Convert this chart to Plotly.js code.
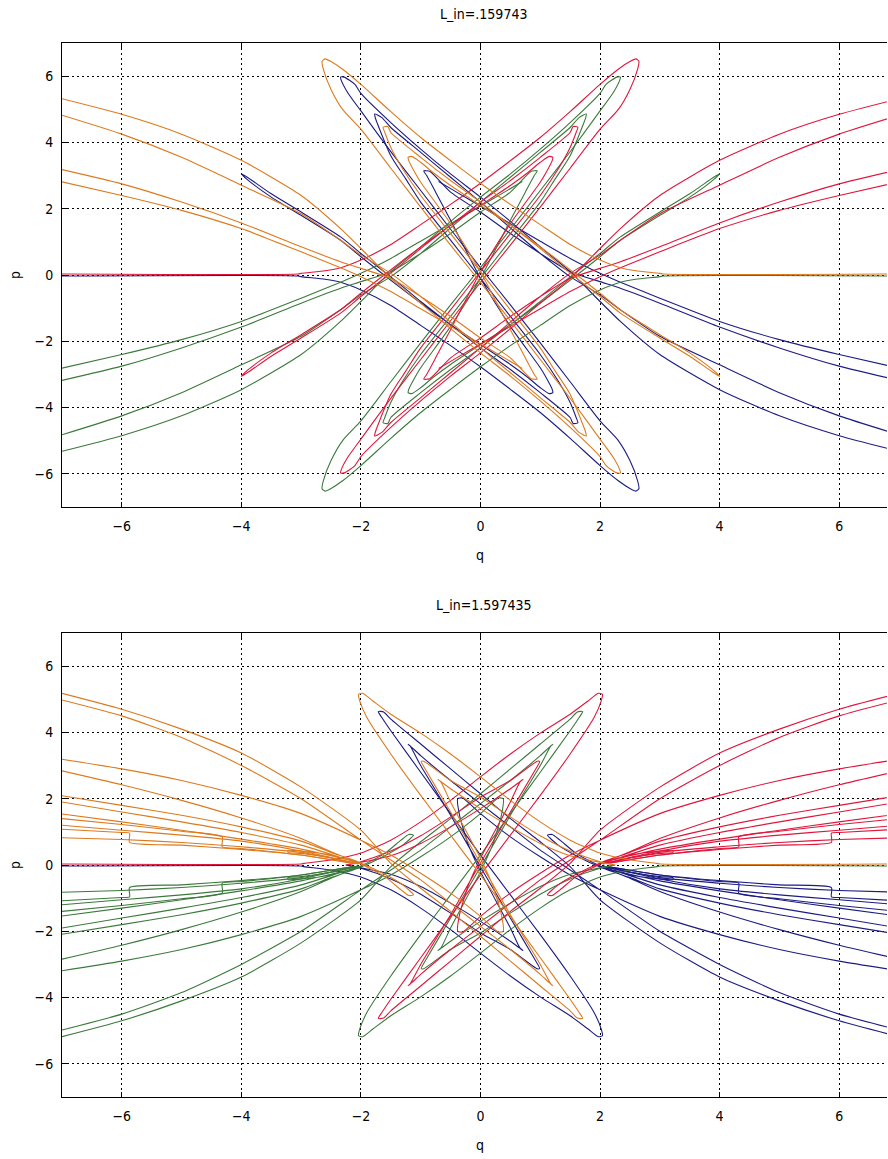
<!DOCTYPE html>
<html><head><meta charset="utf-8">
<script src="https://cdn.plot.ly/plotly-3.0.1.min.js"></script>
<style>body{margin:0;background:#fff}#g{width:888px;height:1159px}</style>
</head><body><div id="g"></div>
<script>
// Values. The figure is point-symmetric, so each curve piece
// is listed with its q values, mirrored q values (qm), p values and mirrored p values (pm).
// orange = (q,p), red = (qm,p), green = (q,pm), blue = (qm,pm)

// ---------- Top panel: L_in=.159743 ----------
const tA_q  = [7,3.05,3.0,2.6,2.34,2.0,1.5,1.0,0.5,0,-0.5,-1,-1.5,-2,-2.3,-2.5,-2.6,-2.65,-2.63,-2.5,-2.3,-2,-1.5,-1,-0.5,0,0.5,1,1.5,2,2.22,2.33,2.34,2.28,2.1,2,1.5,1,0.5,0,-0.5,-1,-1.5,-2,-2.34,-3,-4,-5,-6,-7];
const tA_qm = [-7,-3.05,-3.0,-2.6,-2.34,-2.0,-1.5,-1.0,-0.5,0,0.5,1,1.5,2,2.3,2.5,2.6,2.65,2.63,2.5,2.3,2,1.5,1,0.5,0,-0.5,-1,-1.5,-2,-2.22,-2.33,-2.34,-2.28,-2.1,-2,-1.5,-1,-0.5,0,0.5,1,1.5,2,2.34,3,4,5,6,7];
const tA_p  = [0.03,0.03,0.05,0.13,0.22,0.45,0.92,1.52,2.13,2.77,3.45,4.15,4.93,5.75,6.2,6.44,6.52,6.45,6.22,5.6,4.98,4.4,3.22,2.05,0.9,-0.22,-1.38,-2.55,-3.72,-4.95,-5.5,-5.88,-5.97,-5.97,-5.75,-5.48,-4.6,-3.8,-3.05,-2.35,-1.62,-0.85,-0.1,0.8,1.4,2.4,3.46,4.25,4.85,5.32];
const tA_pm = [-0.03,-0.03,-0.05,-0.13,-0.22,-0.45,-0.92,-1.52,-2.13,-2.77,-3.45,-4.15,-4.93,-5.75,-6.2,-6.44,-6.52,-6.45,-6.22,-5.6,-4.98,-4.4,-3.22,-2.05,-0.9,0.22,1.38,2.55,3.72,4.95,5.5,5.88,5.97,5.97,5.75,5.48,4.6,3.8,3.05,2.35,1.62,0.85,0.1,-0.8,-1.4,-2.4,-3.46,-4.25,-4.85,-5.32];

const tB_q  = [-7,-6,-5,-4,-3,-2.34,-2,-1.5,-1,-0.5,0,0.5,1,1.5,1.65,1.77,1.76,1.72,1.5,1.25,1,0.5,0,-0.5,-1,-1.3,-1.5,-1.6,-1.63,-1.55,-1.5,-1,-0.5,0,0.5,1,1.4,2,2.34,3,3.5,3.9,4.0,3.9,3.5,3,2.34,2,1.4,1,0.5,0,-0.5,-0.8,-1.0,-1.15,-1.21,-1.2,-1.1,-1,-0.5,0,0.5,0.75,0.9,0.95,0.85,0.5,0,-0.5,-1,-1.5,-2,-2.34,-3,-4,-5,-6,-7];
const tB_qm = [7,6,5,4,3,2.34,2,1.5,1,0.5,0,-0.5,-1,-1.5,-1.65,-1.77,-1.76,-1.72,-1.5,-1.25,-1,-0.5,0,0.5,1,1.3,1.5,1.6,1.63,1.55,1.5,1,0.5,0,-0.5,-1,-1.4,-2,-2.34,-3,-3.5,-3.9,-4.0,-3.9,-3.5,-3,-2.34,-2,-1.4,-1,-0.5,0,0.5,0.8,1.0,1.15,1.21,1.2,1.1,1,0.5,0,-0.5,-0.75,-0.9,-0.95,-0.85,-0.5,0,0.5,1,1.5,2,2.34,3,4,5,6,7];
const tB_p  = [4.82,4.25,3.55,2.71,1.85,1.05,0.6,0.05,-0.65,-1.42,-2.2,-2.95,-3.7,-4.45,-4.75,-4.86,-4.75,-4.55,-3.6,-2.9,-2.2,-1.05,0.1,1.25,2.4,3.2,3.85,4.3,4.46,4.48,4.3,3.55,2.85,2.2,1.5,0.8,0.2,-0.65,-1.15,-1.9,-2.45,-2.95,-3.06,-2.88,-2.35,-1.8,-1.05,-0.55,0.3,0.85,1.5,2.1,2.7,3.1,3.4,3.58,3.55,3.45,3.1,2.8,1.55,0.1,-1.65,-2.5,-3.0,-3.14,-3.13,-2.5,-1.9,-1.25,-0.65,-0.1,0.2,0.4,0.85,1.57,2.2,2.75,3.18];
const tB_pm = [-4.82,-4.25,-3.55,-2.71,-1.85,-1.05,-0.6,-0.05,0.65,1.42,2.2,2.95,3.7,4.45,4.75,4.86,4.75,4.55,3.6,2.9,2.2,1.05,-0.1,-1.25,-2.4,-3.2,-3.85,-4.3,-4.46,-4.48,-4.3,-3.55,-2.85,-2.2,-1.5,-0.8,-0.2,0.65,1.15,1.9,2.45,2.95,3.06,2.88,2.35,1.8,1.05,0.55,-0.3,-0.85,-1.5,-2.1,-2.7,-3.1,-3.4,-3.58,-3.55,-3.45,-3.1,-2.8,-1.55,-0.1,1.65,2.5,3.0,3.14,3.13,2.5,1.9,1.25,0.65,0.1,-0.2,-0.4,-0.85,-1.57,-2.2,-2.75,-3.18];

const tC_q  = [-7,-6,-5,-4,-3,-2.34,-2,-1.5,-1,-0.5,0,0.4,0.7];
const tC_qm = [7,6,5,4,3,2.34,2,1.5,1,0.5,0,-0.4,-0.7];
const tC_p  = [2.81,2.4,1.95,1.4,0.7,0.22,-0.05,-0.5,-1.02,-1.55,-2.08,-2.5,-2.82];
const tC_pm = [-2.81,-2.4,-1.95,-1.4,-0.7,-0.22,0.05,0.5,1.02,1.55,2.08,2.5,2.82];

// ---------- Bottom panel: L_in=1.597435 ----------
const bA_q  = [7,3.0,2.95,2.5,2.0,1.5,1,0.5,0,-0.5,-1,-1.5,-1.8,-1.97,-2.04,-2.02,-1.9,-1.5,-1,-0.5,0,0.5,1,1.5,1.65,1.71,1.62,1.5,1,0.5,0,-0.5,-1,-1.5,-2,-3,-4,-5,-6,-7];
const bA_qm = [-7,-3.0,-2.95,-2.5,-2.0,-1.5,-1,-0.5,0,0.5,1,1.5,1.8,1.97,2.04,2.02,1.9,1.5,1,0.5,0,-0.5,-1,-1.5,-1.65,-1.71,-1.62,-1.5,-1,-0.5,0,0.5,1,1.5,2,3,4,5,6,7];
const bA_p  = [0.03,0.03,0.05,0.15,0.36,0.75,1.3,1.95,2.66,3.35,3.98,4.55,4.95,5.18,5.15,4.95,4.45,3.35,2.1,0.9,-0.3,-1.55,-2.8,-4.05,-4.45,-4.63,-4.62,-4.4,-3.65,-2.9,-2.15,-1.4,-0.7,0.05,1.05,2.35,3.38,4.1,4.7,5.18];
const bA_pm = [-0.03,-0.03,-0.05,-0.15,-0.36,-0.75,-1.3,-1.95,-2.66,-3.35,-3.98,-4.55,-4.95,-5.18,-5.15,-4.95,-4.45,-3.35,-2.1,-0.9,0.3,1.55,2.8,4.05,4.45,4.63,4.62,4.4,3.65,2.9,2.15,1.4,0.7,-0.05,-1.05,-2.35,-3.38,-4.1,-4.7,-5.18];

const bB_q  = [-7,-6,-5,-4,-3,-2,-1.5,-1,-0.5,0,0.5,1,1.15,1.21,1.18,1,0.5,0,-0.5,-0.9,-0.99,-0.95,-0.5,0,0.5,1,1.5,2.0,2.25,2.0,1.5,1,0.5,0,-0.5,-0.65,-0.71,-0.66,-0.5,0,0.2,0.35,0.38,0.3,0,-0.5,-1,-1.5,-2,-3,-4,-5,-6,-7];
const bB_qm = [7,6,5,4,3,2,1.5,1,0.5,0,-0.5,-1,-1.15,-1.21,-1.18,-1,-0.5,0,0.5,0.9,0.99,0.95,0.5,0,-0.5,-1,-1.5,-2.0,-2.25,-2.0,-1.5,-1,-0.5,0,0.5,0.65,0.71,0.66,0.5,0,-0.2,-0.35,-0.38,-0.3,0,0.5,1,1.5,2,3,4,5,6,7];
const bB_p  = [4.98,4.5,3.85,3.0,2.0,0.75,0.15,-0.45,-1.15,-1.85,-2.55,-3.3,-3.55,-3.64,-3.6,-3.0,-1.5,0.06,1.6,2.82,3.12,3.13,2.55,2.05,1.45,0.88,0.42,0.1,0.0,0.08,0.28,0.65,1.15,1.7,2.3,2.5,2.58,2.5,1.9,0.2,-0.6,-1.5,-2.0,-2.02,-1.55,-0.85,-0.25,0.3,0.75,1.55,2.1,2.55,2.9,3.19];
const bB_pm = [-4.98,-4.5,-3.85,-3.0,-2.0,-0.75,-0.15,0.45,1.15,1.85,2.55,3.3,3.55,3.64,3.6,3.0,1.5,-0.06,-1.6,-2.82,-3.12,-3.13,-2.55,-2.05,-1.45,-0.88,-0.42,-0.1,0.0,-0.08,-0.28,-0.65,-1.15,-1.7,-2.3,-2.5,-2.58,-2.5,-1.9,-0.2,0.6,1.5,2.0,2.02,1.55,0.85,0.25,-0.3,-0.75,-1.55,-2.1,-2.55,-2.9,-3.19];

const bC_q  = [-7,-6,-5,-4,-3,-2.5,-2.05,-1.6,-1.33,-1.2,-1.12,-1.3,-1.6,-2.05,-2.5,-3,-4,-5,-6,-7];
const bC_qm = [7,6,5,4,3,2.5,2.05,1.6,1.33,1.2,1.12,1.3,1.6,2.05,2.5,3,4,5,6,7];
const bC_p  = [2.84,2.42,1.95,1.42,0.8,0.4,0.07,-0.35,-0.75,-0.92,-0.9,-0.6,-0.28,0.1,0.38,0.72,1.15,1.5,1.8,2.09];
const bC_pm = [-2.84,-2.42,-1.95,-1.42,-0.8,-0.4,-0.07,0.35,0.75,0.92,0.9,0.6,0.28,-0.1,-0.38,-0.72,-1.15,-1.5,-1.8,-2.09];

const bD_q  = [-7,-6,-5,-4,-3,-2.5,-2.05,-2.5,-3,-3.22,-3.22,-3,-2.5,-2.05,-2.5,-3,-4,-5,-6,-7];
const bD_qm = [7,6,5,4,3,2.5,2.05,2.5,3,3.22,3.22,3,2.5,2.05,2.5,3,4,5,6,7];
const bD_p  = [1.9,1.6,1.3,0.98,0.6,0.32,0.04,0.22,0.35,0.38,0.44,0.42,0.3,0.08,0.28,0.48,0.78,1.05,1.3,1.54];
const bD_pm = [-1.9,-1.6,-1.3,-0.98,-0.6,-0.32,-0.04,-0.22,-0.35,-0.38,-0.44,-0.42,-0.3,-0.08,-0.28,-0.48,-0.78,-1.05,-1.3,-1.54];

const bE_q  = [-7,-6,-5,-4.32,-4.32,-4,-3,-2.05,-3,-4,-5,-6,-7];
const bE_qm = [7,6,5,4.32,4.32,4,3,2.05,3,4,5,6,7];
const bE_p  = [1.4,1.22,1.02,0.85,0.55,0.5,0.3,0.03,0.42,0.72,0.9,1.05,1.2];
const bE_pm = [-1.4,-1.22,-1.02,-0.85,-0.55,-0.5,-0.3,-0.03,-0.42,-0.72,-0.9,-1.05,-1.2];

const bF_q  = [-7,-6,-5.87,-5.87,-5,-4,-3,-2.05,-3,-4,-5,-6,-7];
const bF_qm = [7,6,5.87,5.87,5,4,3,2.05,3,4,5,6,7];
const bF_p  = [1.08,0.98,0.96,0.68,0.6,0.47,0.3,0.03,0.38,0.55,0.68,0.77,0.82];
const bF_pm = [-1.08,-0.98,-0.96,-0.68,-0.6,-0.47,-0.3,-0.03,-0.38,-0.55,-0.68,-0.77,-0.82];

const colors = {orange:'#dd7a1e', blue:'#1c1c84', red:'#e0163c', green:'#3c7a3c'};
const traces = [];
function add(q, p, color, xa, ya){
  traces.push({x:q, y:p, mode:'lines', type:'scatter', xaxis:xa, yaxis:ya,
    line:{color:color, width:1.1, shape:'spline', smoothing:0.6}, hoverinfo:'skip'});
}
const topPieces = [[tA_q,tA_qm,tA_p,tA_pm],[tB_q,tB_qm,tB_p,tB_pm],[tC_q,tC_qm,tC_p,tC_pm]];
const botPieces = [[bA_q,bA_qm,bA_p,bA_pm],[bB_q,bB_qm,bB_p,bB_pm],[bC_q,bC_qm,bC_p,bC_pm],
                   [bD_q,bD_qm,bD_p,bD_pm],[bE_q,bE_qm,bE_p,bE_pm],[bF_q,bF_qm,bF_p,bF_pm]];
[[topPieces,'x','y'],[botPieces,'x2','y2']].forEach(([pieces,xa,ya]) => {
  pieces.forEach(([q,qm,p,pm]) => add(qm, pm, colors.blue, xa, ya));
  pieces.forEach(([q,qm,p,pm]) => add(q, pm, colors.green, xa, ya));
  pieces.forEach(([q,qm,p,pm]) => add(qm, p, colors.red, xa, ya));
  pieces.forEach(([q,qm,p,pm]) => add(q, p, colors.orange, xa, ya));
});

const tickV = [-6,-4,-2,0,2,4,6];
const fontF = 'DejaVu Sans Condensed, DejaVu Sans, sans-serif';
const tf = {family:fontF, size:14, color:'#000'};
function xax(anchor){
  return {range:[-7,6.8], anchor:anchor, tickvals:tickV, ticks:'inside', ticklen:5, tickcolor:'#000',
    showgrid:true, gridcolor:'#000', griddash:'2px,3px', gridwidth:1, zeroline:false,
    showline:true, linecolor:'#000', linewidth:1, mirror:'ticks', ticklabelstandoff:6, tickfont:tf};
}
function yax(anchor, dom){
  return {range:[-7,7], anchor:anchor, domain:dom, tickvals:tickV, ticks:'inside', ticklen:5, tickcolor:'#000',
    showgrid:true, gridcolor:'#000', griddash:'2px,3px', gridwidth:1, zeroline:false,
    showline:true, linecolor:'#000', linewidth:1, ticklabelstandoff:5, tickfont:tf};
}
const H = 1054, W = 825;
const px = x => (x-62)/W, py = y => (1097-y)/H;
const ann = (t,x,y,ang) => ({text:t, xref:'paper', yref:'paper', x:px(x), y:py(y), xanchor:'center', yanchor:'middle',
  showarrow:false, textangle:ang||0, font:tf});
const layout = {
  width:888, height:1159, margin:{l:62, r:1, t:43, b:62}, showlegend:false,
  paper_bgcolor:'#fff', plot_bgcolor:'#fff',
  xaxis: xax('y'), yaxis: yax('x', [py(507), 1]),
  xaxis2: xax('y2'), yaxis2: yax('x2', [0, py(633)]),
  annotations:[
    ann('L_in=.159743', 484, 14), ann('q', 480, 555), ann('p', 15, 275, -90),
    ann('L_in=1.597435', 484, 605), ann('q', 480, 1145), ann('p', 15, 865, -90)
  ]
};
Plotly.newPlot('g', traces, layout, {staticPlot:true});
</script></body></html>
